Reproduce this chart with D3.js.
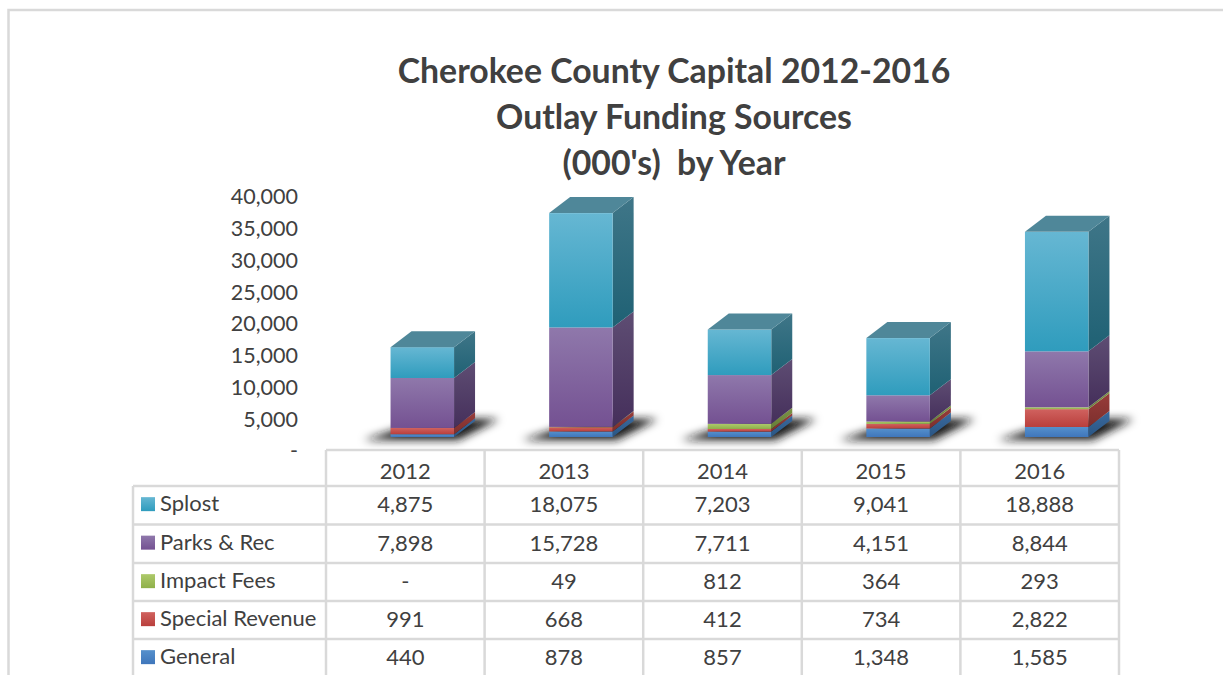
<!DOCTYPE html>
<html>

<head>
    <title>Cherokee County Capital Outlay</title>
    <script src="https://d3js.org/d3.v7.min.js"></script>
    <style>
        html, body {
            margin: 0;
            padding: 0;
            background: #fff;
            overflow: hidden;
        }

        text {
            font-family: Lato, "Open Sans", sans-serif;
            fill: #404040;
        }

        .title {
            font-size: 33.8px;
            font-weight: 700;
            text-anchor: middle;
            white-space: pre;
        }

        .label {
            font-size: 22px;
        }

        .grid {
            stroke: #d9d9d9;
            stroke-width: 2.5;
            fill: none;
        }
    </style>
</head>

<body>
    <div id="chart"></div>

    <script>
        const years = ["2012", "2013", "2014", "2015", "2016"];
        const yTicks = [0, 5000, 10000, 15000, 20000, 25000, 30000, 35000, 40000];
        const titleLines = ["Cherokee County Capital 2012-2016", "Outlay Funding Sources", "(000's)  by Year"];

        // stacking order, bottom to top
        const seriesNames = ["General", "Special Revenue", "Impact Fees", "Parks & Rec", "Splost"];
        const general = [440, 878, 857, 1348, 1585];
        const specialRevenue = [991, 668, 412, 734, 2822];
        const impactFees = [0, 49, 812, 364, 293];
        const parksRec = [7898, 15728, 7711, 4151, 8844];
        const splost = [4875, 18075, 7203, 9041, 18888];
        const seriesValues = [general, specialRevenue, impactFees, parksRec, splost];

        // table rows run top to bottom, the reverse of the stack
        const tableRows = [4, 3, 2, 1, 0];

        // front top, front bottom, side top, side bottom
        const palette = [
            ["#5590cc", "#3f76bb", "#3a6a9e", "#2a5583"],
            ["#d0625f", "#b93f3c", "#983c3a", "#7c2f2d"],
            ["#adc96a", "#8fb04a", "#7b9445", "#667c38"],
            ["#8f78ab", "#745192", "#5e4d73", "#452f5b"],
            ["#66b7d3", "#2f9cbd", "#3f7688", "#1f6174"]
        ];
        const roofColor = "#4f8799";

        const width = 1223, height = 675;
        const barWidth = 63.5, depthX = 21, depthY = 16;

        const svg = d3.select("#chart")
            .append("svg")
            .attr("width", width)
            .attr("height", height);

        const defs = svg.append("defs");

        function addGradient(id, top, bottom) {
            const g = defs.append("linearGradient")
                .attr("id", id)
                .attr("x1", 0).attr("y1", 0)
                .attr("x2", 0).attr("y2", 1);
            g.append("stop").attr("offset", "0%").attr("stop-color", top);
            g.append("stop").attr("offset", "100%").attr("stop-color", bottom);
        }

        palette.forEach((c, i) => {
            addGradient("front" + i, c[0], c[1]);
            addGradient("side" + i, c[2], c[3]);
        });

        defs.append("filter")
            .attr("id", "blur")
            .attr("x", "-30%").attr("y", "-60%")
            .attr("width", "160%").attr("height", "220%")
            .append("feGaussianBlur")
            .attr("stdDeviation", 4.5);

        // outer frame
        svg.append("path")
            .attr("class", "grid")
            .attr("d", `M8.5,${height}V10H${width}`);

        svg.selectAll(".title")
            .data(titleLines)
            .join("text")
            .attr("class", "title")
            .attr("x", 674)
            .attr("y", (d, i) => 83 + i * 46)
            .text(d => d);

        // the value axis sits lower than the bars, the bars stand on the 3D floor
        const yAxisScale = d3.scaleLinear().domain([0, 40000]).range([451, 197]);
        const y = d3.scaleLinear().domain([0, 40000]).range([437, 184]);

        const axis = svg.append("g")
            .attr("transform", "translate(298,0)")
            .call(d3.axisLeft(yAxisScale)
                .tickValues(yTicks)
                .tickSize(0)
                .tickPadding(0)
                .tickFormat(d => d === 0 ? "-" : d3.format(",")(d)));
        axis.select(".domain").remove();
        axis.selectAll("text")
            .attr("class", "label")
            .style("font-family", "Lato")
            .style("font-size", "21.5px");

        const tableLeft = 133, tableX0 = 326, tableX1 = 1119;
        const column = d3.scaleBand().domain(years).range([tableX0, tableX1]);
        const rowTops = [486, 524.5, 563, 601, 639];
        const headerTop = 450;
        const rowHeight = 38.3;

        // bars are drawn right of the column centre, as in the 3D view
        const barX = year => column(year) + column.bandwidth() / 2 + 17 - barWidth / 2;

        const stacked = d3.stack()
            .keys(d3.range(seriesNames.length))
            .value((d, key) => seriesValues[key][d])(d3.range(years.length));

        // floor shadows
        svg.append("g")
            .selectAll("path")
            .data(years)
            .join("path")
            .attr("d", d => {
                const x = barX(d);
                return `M${x - 27},440H${x + barWidth + 4}L${x + barWidth + 45},419H${x + 40}Z`;
            })
            .attr("fill", "#161616")
            .attr("filter", "url(#blur)");

        // stacked boxes
        stacked.forEach((layer, s) => {
            const g = svg.append("g");

            g.selectAll(".side")
                .data(layer)
                .join("path")
                .attr("class", "side")
                .attr("fill", `url(#side${s})`)
                .attr("d", (d, i) => {
                    const x = barX(years[i]) + barWidth;
                    return `M${x},${y(d[1])}l${depthX},${-depthY}V${y(d[0]) - depthY}l${-depthX},${depthY}Z`;
                });

            g.selectAll(".front")
                .data(layer)
                .join("rect")
                .attr("class", "front")
                .attr("x", (d, i) => barX(years[i]))
                .attr("y", d => y(d[1]))
                .attr("width", barWidth)
                .attr("height", d => y(d[0]) - y(d[1]))
                .attr("fill", `url(#front${s})`);
        });

        // roof of each box
        svg.append("g")
            .selectAll("path")
            .data(stacked[stacked.length - 1])
            .join("path")
            .attr("fill", roofColor)
            .attr("d", (d, i) => {
                const x = barX(years[i]);
                return `M${x},${y(d[1])}l${depthX},${-depthY}h${barWidth}l${-depthX},${depthY}Z`;
            });

        // data table grid
        const grid = svg.append("g");
        grid.append("path")
            .attr("class", "grid")
            .attr("d", `M${tableX0},${headerTop}H${tableX1}`);
        grid.selectAll(".rowline")
            .data(rowTops)
            .join("path")
            .attr("class", "grid rowline")
            .attr("d", d => `M${tableLeft},${d}H${tableX1}`);
        grid.append("path")
            .attr("class", "grid")
            .attr("d", `M${tableLeft},${rowTops[0]}V${height}`);
        grid.selectAll(".colline")
            .data(years.concat("end"))
            .join("path")
            .attr("class", "grid colline")
            .attr("d", (d, i) => {
                const x = tableX0 + i * column.bandwidth();
                return `M${x},${headerTop}V${height}`;
            });

        // header years
        svg.selectAll(".year")
            .data(years)
            .join("text")
            .attr("class", "label year")
            .attr("text-anchor", "middle")
            .attr("x", d => column(d) + column.bandwidth() / 2)
            .attr("y", 479)
            .text(d => d);

        const cellFormat = d => d === 0 ? "-" : d3.format(",")(d);

        tableRows.forEach((s, r) => {
            const rowY = rowTops[r];
            const middle = rowY + rowHeight / 2;

            svg.append("rect")
                .attr("x", 141)
                .attr("y", middle - 8)
                .attr("width", 14)
                .attr("height", 14)
                .attr("fill", `url(#front${s})`);

            svg.append("text")
                .attr("class", "label")
                .attr("x", 160)
                .attr("y", rowY + 25)
                .text(seriesNames[s]);

            svg.selectAll(".cell" + s)
                .data(seriesValues[s])
                .join("text")
                .attr("class", "label cell" + s)
                .attr("text-anchor", "middle")
                .attr("x", (d, i) => column(years[i]) + column.bandwidth() / 2)
                .attr("y", rowY + 26)
                .text(cellFormat);
        });
    </script>
</body>

</html>
